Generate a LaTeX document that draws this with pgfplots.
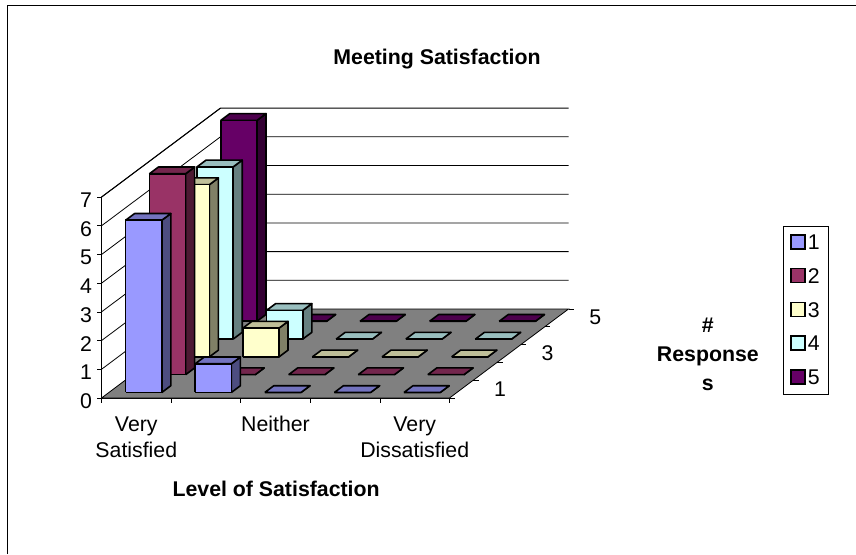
\documentclass[border=0pt]{standalone}
\usepackage{fontspec}
\setmainfont{Liberation Sans}
\usepackage{pgfplots}
\pgfplotsset{compat=1.18}

\definecolor{s1}{HTML}{9999FF}\definecolor{s1t}{HTML}{7373BF}\definecolor{s1r}{HTML}{4D4D80}
\definecolor{s2}{HTML}{993366}\definecolor{s2t}{HTML}{73264D}\definecolor{s2r}{HTML}{4D1A33}
\definecolor{s3}{HTML}{FFFFCC}\definecolor{s3t}{HTML}{BFBF99}\definecolor{s3r}{HTML}{808066}
\definecolor{s4}{HTML}{CCFFFF}\definecolor{s4t}{HTML}{99BFBF}\definecolor{s4r}{HTML}{668080}
\definecolor{s5}{HTML}{660066}\definecolor{s5t}{HTML}{4D004D}\definecolor{s5r}{HTML}{330033}

% one 3D column: category i (0-4), series j (0-4), value, colour name
\newcommand{\column}[4]{%
  \pgfmathsetmacro{\xa}{#1+0.24}\pgfmathsetmacro{\xb}{#1+0.76}%
  \pgfmathsetmacro{\ya}{#2+0.31}\pgfmathsetmacro{\yb}{#2+0.69}%
  \addplot3[forget plot,draw=black,line width=1.6pt,line join=round,fill=#4r]
    coordinates {(\xb,\ya,0) (\xb,\yb,0) (\xb,\yb,#3) (\xb,\ya,#3) (\xb,\ya,0)};
  \addplot3[forget plot,draw=black,line width=1.6pt,line join=round,fill=#4t]
    coordinates {(\xa,\ya,#3) (\xb,\ya,#3) (\xb,\yb,#3) (\xa,\yb,#3) (\xa,\ya,#3)};
  \addplot3[forget plot,draw=black,line width=1.6pt,line join=round,fill=#4]
    coordinates {(\xa,\ya,0) (\xb,\ya,0) (\xb,\ya,#3) (\xa,\ya,#3) (\xa,\ya,0)};
}

\begin{document}
\begin{tikzpicture}
\useasboundingbox (0pt,0pt) rectangle (856pt,-554pt);
\draw[black,line width=1.8pt] (7.5pt,-554pt) -- (7.5pt,-5.5pt) -- (856pt,-5.5pt);
\begin{axis}[
    at={(101.5pt,-398pt)}, anchor=origin,
    x={(69.6pt,0pt)}, y={(23.8pt,17.8pt)}, z={(0pt,28.7pt)},
    xmin=0, xmax=5, ymin=0, ymax=5, zmin=0, zmax=7,
    clip=false,
    axis x line*=bottom, axis y line*=right, axis z line*=left,
    axis line style={black,line width=1pt},
    font=\fontsize{21.3}{26}\selectfont,
    /pgf/number format/assume math mode=true,
    xtick={0.5,2.5,4.5},
    xticklabels={Very\\Satisfied,Neither,Very\\Dissatisfied},
    ytick={0.5,2.5,4.5},
    yticklabels={1,3,5},
    ztick={0,1,2,3,4,5,6,7},
    major tick length=0pt,
    xticklabel style={align=center,anchor=north,yshift=-15pt},
    yticklabel style={xshift=397pt,yshift=-211pt},
    zticklabel style={xshift=-6pt},
    title={\textbf{Meeting Satisfaction}},
    title style={xshift=102pt,yshift=30pt},
    xlabel={\textbf{Level of Satisfaction}},
    xlabel style={xshift=43pt,yshift=-6pt},
    ylabel={\textbf{\#}\\\textbf{Response}\\\textbf{s}},
    ylabel style={align=center,font=\fontsize{21.3}{29}\selectfont,xshift=593pt,yshift=-247.5pt},
    legend style={at={(1.5086,0.3024)},anchor=center,draw=black,line width=0.8pt,
      font=\fontsize{21.3}{26}\selectfont,row sep=13.5pt,inner xsep=6.5pt,inner ysep=6.5pt},
    legend image code/.code={\draw[#1,line width=1.5pt] (0pt,-6pt) rectangle (14pt,8pt);},
]
\addlegendimage{draw=black,fill=s1}\addlegendentry{1}
\addlegendimage{draw=black,fill=s2}\addlegendentry{2}
\addlegendimage{draw=black,fill=s3}\addlegendentry{3}
\addlegendimage{draw=black,fill=s4}\addlegendentry{4}
\addlegendimage{draw=black,fill=s5}\addlegendentry{5}

% walls
\foreach \k in {1,...,7} {
  \edef\tmp{\noexpand\addplot3[forget plot,black,line width=0.8pt] coordinates {(0,0,\k) (0,5,\k) (5,5,\k)};}
  \tmp
  \edef\tmp{\noexpand\addplot3[forget plot,black,line width=0.8pt] coordinates {(0,0,\k) (-0.07,0,\k)};}
  \tmp
}
\addplot3[forget plot,black,line width=0.8pt] coordinates {(0,0,0) (-0.07,0,0)};
% floor
\addplot3[forget plot,draw=black,line width=0.8pt,fill=gray] coordinates {(0,0,0) (5,0,0) (5,5,0) (0,5,0) (0,0,0)};
% tick stubs
\foreach \k in {0,...,5} {
  \edef\tmp{\noexpand\addplot3[forget plot,black,line width=0.8pt] coordinates {(\k,0,0) (\k,0,-0.18)};}
  \tmp
  \edef\tmp{\noexpand\addplot3[forget plot,black,line width=0.8pt] coordinates {(5,\k,0) (5.08,\k,0)};}
  \tmp
}

% series 5 at the back
\column{4}{4}{0}{s5}\column{3}{4}{0}{s5}\column{2}{4}{0}{s5}\column{1}{4}{0}{s5}\column{0}{4}{7}{s5}
\column{4}{3}{0}{s4}\column{3}{3}{0}{s4}\column{2}{3}{0}{s4}\column{1}{3}{1}{s4}\column{0}{3}{6}{s4}
\column{4}{2}{0}{s3}\column{3}{2}{0}{s3}\column{2}{2}{0}{s3}\column{1}{2}{1}{s3}\column{0}{2}{6}{s3}
\column{4}{1}{0}{s2}\column{3}{1}{0}{s2}\column{2}{1}{0}{s2}\column{1}{1}{0}{s2}\column{0}{1}{7}{s2}
\column{4}{0}{0}{s1}\column{3}{0}{0}{s1}\column{2}{0}{0}{s1}\column{1}{0}{1}{s1}\column{0}{0}{6}{s1}
\end{axis}
\end{tikzpicture}
\end{document}
